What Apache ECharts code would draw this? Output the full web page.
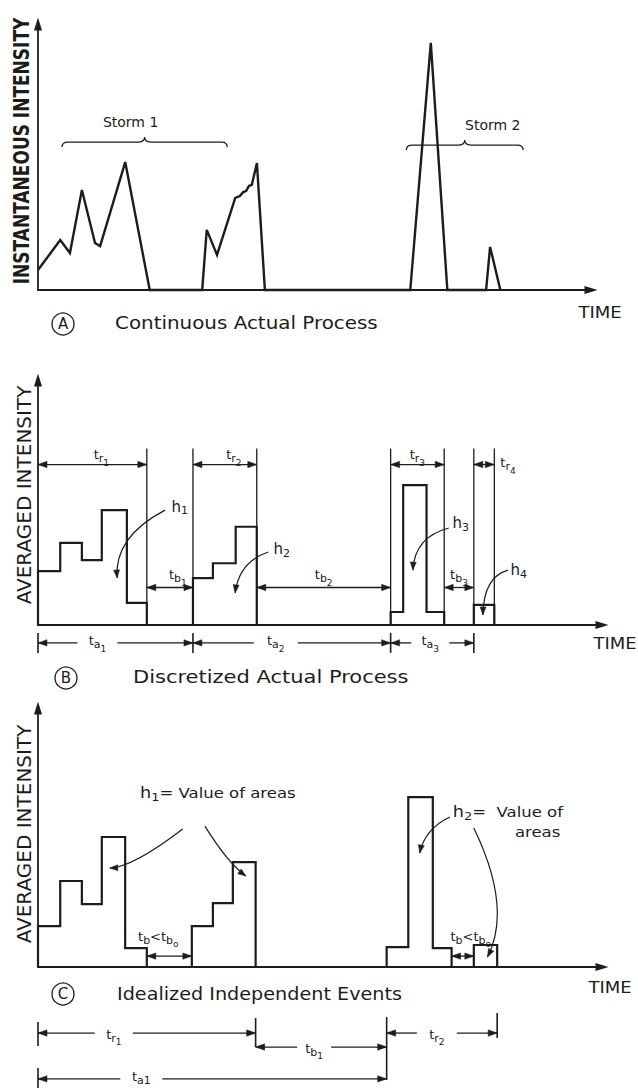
<!DOCTYPE html>
<html>
<head>
<meta charset="utf-8">
<script src="https://cdn.jsdelivr.net/npm/echarts@6/dist/echarts.min.js"></script>
<style>
  html, body { margin: 0; padding: 0; background: #fff; }
  #chart { width: 638px; height: 1088px; }
</style>
</head>
<body>
<div id="chart"></div>
<script>
// ---------- Panel A: continuous rainfall intensity (time, intensity) ----------
const contTime      = [0, 3.9, 5.6, 7.7, 10.0, 10.9, 15.3, 19.6, 28.8, 29.6, 31.4, 34.6, 35.4, 36.0, 36.5, 37.0, 37.5, 38.4, 39.8, 65.3, 68.9, 71.8, 78.6, 79.3, 81.1];
const contIntensity = [7.5, 18.8, 13.9, 37.6, 17.7, 16.5, 48.1, 0, 0, 22.6, 13.2, 34.6, 35.3, 36.8, 37.2, 39.1, 39.5, 47.7, 0, 0, 92.9, 0, 0, 16.2, 0];
const stormNames = ['Storm 1', 'Storm 2'];
const stormSpans = [[4.2, 33.2], [64.6, 85.1]];

// ---------- Panel B: discretized pulses (interval boundaries, averaged levels) ----------
const pulseTimes  = [[0, 3.9, 7.7, 11.2, 15.6, 19.1], [27.2, 30.7, 34.7, 38.4], [61.9, 64.1, 68.2, 71.3], [76.5, 80.1]];
const pulseLevels = [[22.0, 33.5, 26.5, 46.9, 9.0], [19.1, 25.2, 40.1], [5.3, 57.1, 5.3], [8.2]];
const pulseIds = ['1', '2', '3', '4'];

// ---------- Panel C: idealized independent events ----------
const eventTimes  = [[0, 3.9, 7.7, 11.2, 15.3, 19.1], [27.0, 30.7, 34.2, 38.2], [61.2, 65.0, 69.3, 72.6], [76.5, 80.6]];
const eventLevels = [[15.8, 33.2, 24.3, 50.2, 7.3], [15.8, 24.7, 40.5], [7.7, 65.6, 7.3], [8.5]];
const eventGroups = [[0, 1], [2, 3]];   // pulses merged into one event
const eventIds = ['1', '2'];

// ---------- Texts ----------
const axisTitles = ['INSTANTANEOUS INTENSITY', 'AVERAGED INTENSITY', 'AVERAGED INTENSITY'];
const captions = ['Continuous Actual Process', 'Discretized Actual Process', 'Idealized Independent Events'];
const captionMarks = ['A', 'B', 'C'];
const timeLabel = 'TIME';
const areaNote = 'Value of areas';

const FONT = 'DejaVu Sans';
const INK = '#1c1c1c';

// layout of annotations (in axis units of each panel)
const A_LAYOUT = { braceLevel: [55.6, 54.5], labelShift: [-14, 28], labelLift: 20 };
const B_LAYOUT = {
  guideTop: 72, trRow: 65.5, tbRow: 15.3, taRow: -7.3,
  trShift: [9, 9, 0], tbShift: [8, 0, 0], taShift: [-18, -16, -2], taGap: [20, 22, 19],
  hLabels: [[24.9, 48.2], [42.8, 31.0], [74.2, 41.6], [84.4, 22.4]],
  hArrows: [
    [[22.3, 46.9], [13.3, 35.9], [13.9, 19.2]],
    [[40.4, 29.8], [35.3, 25.7], [34.6, 13.1]],
    [[72.1, 39.6], [66.1, 35.9], [65.8, 22.4]],
    [[82.5, 22.4], [78.2, 19.6], [78.1, 4.1]]
  ]
};
const C_LAYOUT = {
  gapRow: 4.2, gapShift: [-11, 8], gapLift: 20,
  trRow: -25.5, tbRow: -30.9, taRow: -43.2,
  trShift: [-33, -5], trGap: [19, 20], tbShift: -7, tbGap: 17, taShift: -71, taGap: 21,
  noteAnchors: [[17.9, 67.2], [72.8, 59.8]], areasAnchor: [87.7, 52.1],
  hArrows: [
    [[25.4, 53.3], [16.7, 38.6], [12.6, 38.2]],
    [[29.3, 54.4], [33.3, 40.2], [36.5, 35.1]],
    [[72.3, 57.9], [67.9, 53.3], [67.0, 44.0]],
    [[76.5, 53.7], [83.3, 22.8], [78.9, 3.9]]
  ]
};

// ---------- helpers ----------
function stepPoints(times, levels) {
  const pts = [];
  times.forEach((ts, k) => {
    pts.push([ts[0], 0]);
    levels[k].forEach((v, i) => pts.push([ts[i], v]));
    pts.push([ts[ts.length - 1], 0]);
  });
  return pts;
}

const RICH = {
  m:  { fontFamily: FONT, fontSize: 13, fill: INK, verticalAlign: 'middle' },
  h:  { fontFamily: FONT, fontSize: 15, fill: INK, verticalAlign: 'middle' },
  v:  { fontFamily: FONT, fontSize: 14, fill: INK, verticalAlign: 'middle' },
  s:  { fontFamily: FONT, fontSize: 11, fill: INK, verticalAlign: 'middle', padding: [8, 0, 0, 0] },
  ss: { fontFamily: FONT, fontSize: 9,  fill: INK, verticalAlign: 'middle', padding: [16, 0, 0, 0] }
};
function sym(main, sub, subsub) {
  return '{m|' + main + '}{s|' + sub + '}' + (subsub ? '{ss|' + subsub + '}' : '');
}
function txt(text, x, y, align, scaleX) {
  return {
    type: 'text', x: x, y: y, scaleX: scaleX || 1,
    style: { text: text, rich: RICH, align: align || 'center', verticalAlign: 'middle',
             fill: INK, fontFamily: FONT, fontSize: 13 }
  };
}
function seg(x1, y1, x2, y2, w) {
  return { type: 'line', shape: { x1: x1, y1: y1, x2: x2, y2: y2 },
           style: { stroke: INK, lineWidth: w || 1.3, fill: 'none' } };
}
function head(xt, yt, dx, dy, len, half) {
  const bx = xt - dx * len, by = yt - dy * len;
  return { type: 'polygon',
           shape: { points: [[xt, yt], [bx - dy * half, by + dx * half], [bx + dy * half, by - dx * half]] },
           style: { fill: INK, stroke: INK, lineWidth: 0.5 } };
}
function dim(x1, x2, y, gap, heads) {
  const out = [];
  if (gap) { out.push(seg(x1, y, gap[0], y), seg(gap[1], y, x2, y)); }
  else { out.push(seg(x1, y, x2, y)); }
  const h = heads || [true, true];
  if (h[0]) out.push(head(x1, y, -1, 0, 9, 3.2));
  if (h[1]) out.push(head(x2, y, 1, 0, 9, 3.2));
  return out;
}
function curvedArrow(p0, c, p1) {
  const dx = p1[0] - c[0], dy = p1[1] - c[1], n = Math.hypot(dx, dy) || 1;
  return [
    { type: 'bezierCurve', shape: { x1: p0[0], y1: p0[1], cpx1: c[0], cpy1: c[1], x2: p1[0], y2: p1[1] },
      style: { stroke: INK, lineWidth: 1.2, fill: 'none' } },
    head(p1[0], p1[1], dx / n, dy / n, 8, 3)
  ];
}

// ---------- annotation renderers ----------
function renderA(params, api) {
  const X = t => api.coord([t, 0])[0];
  const Y = v => api.coord([0, v])[1];
  const kids = [];
  stormSpans.forEach((sp, k) => {
    const x1 = X(sp[0]), x2 = X(sp[1]), y = Y(A_LAYOUT.braceLevel[k]), xm = (x1 + x2) / 2;
    const d = 'M' + x1 + ',' + (y + 5) + ' Q' + x1 + ',' + y + ' ' + (x1 + 6) + ',' + y +
              ' L' + (xm - 6) + ',' + y + ' Q' + xm + ',' + y + ' ' + xm + ',' + (y - 5) +
              ' Q' + xm + ',' + y + ' ' + (xm + 6) + ',' + y +
              ' L' + (x2 - 6) + ',' + y + ' Q' + x2 + ',' + y + ' ' + x2 + ',' + (y + 5);
    kids.push({ type: 'path', shape: { pathData: d }, style: { stroke: INK, lineWidth: 1.3, fill: 'none' } });
    kids.push({ type: 'text', x: xm + A_LAYOUT.labelShift[k], y: y - A_LAYOUT.labelLift,
                style: { text: stormNames[k], fontFamily: FONT, fontSize: 14, fill: INK, align: 'center', verticalAlign: 'middle' } });
  });
  return { type: 'group', children: kids };
}

function renderB(params, api) {
  const X = t => api.coord([t, 0])[0];
  const Y = v => api.coord([0, v])[1];
  const L = B_LAYOUT;
  const kids = [];
  const starts = pulseTimes.map(ts => ts[0]);
  const ends = pulseTimes.map(ts => ts[ts.length - 1]);
  const y0 = Y(0), yG = Y(L.guideTop), yR = Y(L.trRow), yB = Y(L.tbRow), yA = Y(L.taRow);

  // extension lines bounding each pulse
  starts.forEach(s => { if (s > 0) kids.push(seg(X(s), y0, X(s), yG)); });
  ends.forEach(e => kids.push(seg(X(e), y0, X(e), yG)));

  // pulse durations t_r
  starts.forEach((s, k) => {
    const x1 = X(s), x2 = X(ends[k]);
    kids.push(...dim(x1, x2, yR));
    const lbl = sym('t', 'r', pulseIds[k]);
    if (x2 - x1 < 30) kids.push(txt(lbl, x2 + 6, yR - 2, 'left'));
    else kids.push(txt(lbl, (x1 + x2) / 2 + L.trShift[k], yR - 10));
  });

  // dry spells t_b
  for (let k = 0; k < starts.length - 1; k++) {
    const x1 = X(ends[k]), x2 = X(starts[k + 1]);
    kids.push(...dim(x1, x2, yB));
    kids.push(txt(sym('t', 'b', String(k + 1)), (x1 + x2) / 2 + L.tbShift[k], yB - 13));
  }

  // interarrival times t_a
  for (let k = 0; k < starts.length - 1; k++) {
    const x1 = X(starts[k]), x2 = X(starts[k + 1]);
    const c = (x1 + x2) / 2 + L.taShift[k];
    kids.push(...dim(x1, x2, yA, [c - L.taGap[k], c + L.taGap[k]]));
    kids.push(txt(sym('t', 'a', String(k + 1)), c, yA - 2));
  }
  starts.forEach(s => kids.push(seg(X(s), yA - 10, X(s), yA + 10, 1.6)));

  // pulse depths h
  L.hLabels.forEach((p, k) => {
    const q = api.coord(p);
    kids.push(txt('{h|h}{s|' + pulseIds[k] + '}', q[0], q[1]));
  });
  L.hArrows.forEach(a => {
    kids.push(...curvedArrow(api.coord(a[0]), api.coord(a[1]), api.coord(a[2])));
  });
  return { type: 'group', children: kids };
}

function renderC(params, api) {
  const X = t => api.coord([t, 0])[0];
  const Y = v => api.coord([0, v])[1];
  const L = C_LAYOUT;
  const kids = [];
  const evStart = eventGroups.map(g => eventTimes[g[0]][0]);
  const evEnd = eventGroups.map(g => { const ts = eventTimes[g[g.length - 1]]; return ts[ts.length - 1]; });

  // short dry gaps inside an event: t_b < t_b0
  eventGroups.forEach((g, k) => {
    const a = eventTimes[g[0]], b = eventTimes[g[1]];
    const x1 = X(a[a.length - 1]), x2 = X(b[0]), y = Y(L.gapRow);
    kids.push(...dim(x1, x2, y));
    kids.push(txt('{m|t}{s|b}{m|<}{m|t}{s|b}{ss|o}', (x1 + x2) / 2 + L.gapShift[k], y - L.gapLift));
  });

  // h notes and arrows
  const n1 = api.coord(L.noteAnchors[0]), n2 = api.coord(L.noteAnchors[1]), ar = api.coord(L.areasAnchor);
  kids.push(txt('{h|h}{s|' + eventIds[0] + '}{v|= ' + areaNote + '}', n1[0], n1[1], 'left', 1.18));
  kids.push(txt('{h|h}{s|' + eventIds[1] + '}{v|=  ' + areaNote.replace(' areas', '') + '}', n2[0], n2[1], 'left', 1.18));
  kids.push(txt('{v|areas}', ar[0], ar[1], 'center', 1.18));
  L.hArrows.forEach(a => {
    kids.push(...curvedArrow(api.coord(a[0]), api.coord(a[1]), api.coord(a[2])));
  });

  // event durations, dry spell and interarrival below the axis
  const yR = Y(L.trRow), yB = Y(L.tbRow), yA = Y(L.taRow);
  evStart.forEach((s, k) => {
    const x1 = X(s), x2 = X(evEnd[k]);
    const c = (x1 + x2) / 2 + L.trShift[k];
    kids.push(...dim(x1, x2, yR, [c - L.trGap[k], c + L.trGap[k]]));
    kids.push(txt(sym('t', 'r', eventIds[k]), c, yR + 1));
  });
  {
    const x1 = X(evEnd[0]), x2 = X(evStart[1]);
    const c = (x1 + x2) / 2 + L.tbShift;
    kids.push(...dim(x1, x2, yB, [c - L.tbGap, c + L.tbGap]));
    kids.push(txt(sym('t', 'b', eventIds[0]), c, yB + 1));
    kids.push(seg(x1, yR - 15, x1, yB, 1.6));
    kids.push(seg(x2, yR - 16, x2, yA + 1, 1.6));
  }
  {
    const x1 = X(evStart[0]), x2 = X(evStart[1]);
    const c = (x1 + x2) / 2 + L.taShift;
    kids.push(...dim(x1, x2, yA, [c - L.taGap, c + L.taGap]));
    // kept compact so it stays inside the bottom edge
    kids.push(txt('{m|t}{s|a}{s|' + eventIds[0] + '}', c, yA - 2));
    kids.push(seg(x1, yR - 11, x1, yR + 13, 1.6));
    kids.push(seg(x1, yA - 11, x1, yA + 9, 1.6));
    const xe = X(evEnd[1]);
    kids.push(seg(xe, yR - 20, xe, yR + 5, 1.6));
  }
  return { type: 'group', children: kids };
}

// ---------- chart ----------
const chart = echarts.init(document.getElementById('chart'), null, { renderer: 'svg' });

const grids = [
  { left: 38, top: 24,  width: 553, height: 266 },
  { left: 38, top: 380, width: 564, height: 245 },
  { left: 38, top: 708, width: 564, height: 259 }
];
const xMax = [97, 99, 99];

function axisBase(extra) {
  return Object.assign({
    type: 'value', min: 0,
    axisLine: { show: true, symbol: ['none', 'triangle'], symbolSize: [8, 13],
                lineStyle: { color: INK, width: 1.8 } },
    axisTick: { show: false }, axisLabel: { show: false }, splitLine: { show: false }
  }, extra);
}

const traceStyle = { color: INK, width: 2.2, join: 'miter', miterLimit: 3 };

const option = {
  animation: false,
  backgroundColor: '#ffffff',
  grid: grids,
  xAxis: grids.map((g, i) => axisBase({ gridIndex: i, max: xMax[i] })),
  yAxis: grids.map((g, i) => axisBase({ gridIndex: i, max: 100 })),
  series: [
    { type: 'line', xAxisIndex: 0, yAxisIndex: 0, clip: false, silent: true, showSymbol: false, symbol: 'none',
      data: contTime.map((t, i) => [t, contIntensity[i]]), lineStyle: Object.assign({}, traceStyle, { width: 2.4 }), z: 3 },
    { type: 'line', xAxisIndex: 1, yAxisIndex: 1, clip: false, silent: true, showSymbol: false, symbol: 'none', step: 'end',
      data: stepPoints(pulseTimes, pulseLevels), lineStyle: traceStyle, z: 3 },
    { type: 'line', xAxisIndex: 2, yAxisIndex: 2, clip: false, silent: true, showSymbol: false, symbol: 'none', step: 'end',
      data: stepPoints(eventTimes, eventLevels), lineStyle: traceStyle, z: 3 },
    { type: 'custom', xAxisIndex: 0, yAxisIndex: 0, silent: true, data: [[0, 0]], renderItem: renderA, z: 4 },
    { type: 'custom', xAxisIndex: 1, yAxisIndex: 1, silent: true, data: [[0, 0]], renderItem: renderB, z: 4 },
    { type: 'custom', xAxisIndex: 2, yAxisIndex: 2, silent: true, data: [[0, 0]], renderItem: renderC, z: 4 }
  ],
  graphic: [
    // vertical axis titles
    { type: 'text', x: 22, y: 151, rotation: Math.PI / 2, scaleX: 0.81,
      style: { text: axisTitles[0], fontFamily: FONT, fontWeight: 'bold', fontSize: 21, fill: INK, align: 'center', verticalAlign: 'middle' } },
    { type: 'text', x: 24, y: 495, rotation: Math.PI / 2,
      style: { text: axisTitles[1], fontFamily: FONT, fontSize: 20, fill: INK, align: 'center', verticalAlign: 'middle' } },
    { type: 'text', x: 24, y: 834, rotation: Math.PI / 2,
      style: { text: axisTitles[2], fontFamily: FONT, fontSize: 20, fill: INK, align: 'center', verticalAlign: 'middle' } },
    // time labels at the arrow ends
    { type: 'text', x: 600, y: 313, scaleX: 1.2,
      style: { text: timeLabel, fontFamily: FONT, fontSize: 15, fill: INK, align: 'center', verticalAlign: 'middle' } },
    { type: 'text', x: 615, y: 644, scaleX: 1.2,
      style: { text: timeLabel, fontFamily: FONT, fontSize: 15, fill: INK, align: 'center', verticalAlign: 'middle' } },
    { type: 'text', x: 610, y: 988, scaleX: 1.2,
      style: { text: timeLabel, fontFamily: FONT, fontSize: 15, fill: INK, align: 'center', verticalAlign: 'middle' } },
    // circled panel marks and captions
    { type: 'circle', shape: { cx: 63, cy: 324, r: 11 }, style: { stroke: INK, lineWidth: 1.3, fill: 'none' } },
    { type: 'text', x: 63, y: 324, style: { text: captionMarks[0], fontFamily: FONT, fontSize: 15, fill: INK, align: 'center', verticalAlign: 'middle' } },
    { type: 'text', x: 115, y: 323, scaleX: 1.17, style: { text: captions[0], fontFamily: FONT, fontSize: 17, fill: INK, align: 'left', verticalAlign: 'middle' } },
    { type: 'circle', shape: { cx: 66, cy: 678, r: 11 }, style: { stroke: INK, lineWidth: 1.3, fill: 'none' } },
    { type: 'text', x: 66, y: 678, style: { text: captionMarks[1], fontFamily: FONT, fontSize: 15, fill: INK, align: 'center', verticalAlign: 'middle' } },
    { type: 'text', x: 133, y: 677, scaleX: 1.2, style: { text: captions[1], fontFamily: FONT, fontSize: 17.5, fill: INK, align: 'left', verticalAlign: 'middle' } },
    { type: 'circle', shape: { cx: 63, cy: 994, r: 11 }, style: { stroke: INK, lineWidth: 1.3, fill: 'none' } },
    { type: 'text', x: 63, y: 994, style: { text: captionMarks[2], fontFamily: FONT, fontSize: 15, fill: INK, align: 'center', verticalAlign: 'middle' } },
    { type: 'text', x: 117, y: 994, scaleX: 1.13, style: { text: captions[2], fontFamily: FONT, fontSize: 17, fill: INK, align: 'left', verticalAlign: 'middle' } }
  ]
};

chart.setOption(option);
</script>
</body>
</html>
